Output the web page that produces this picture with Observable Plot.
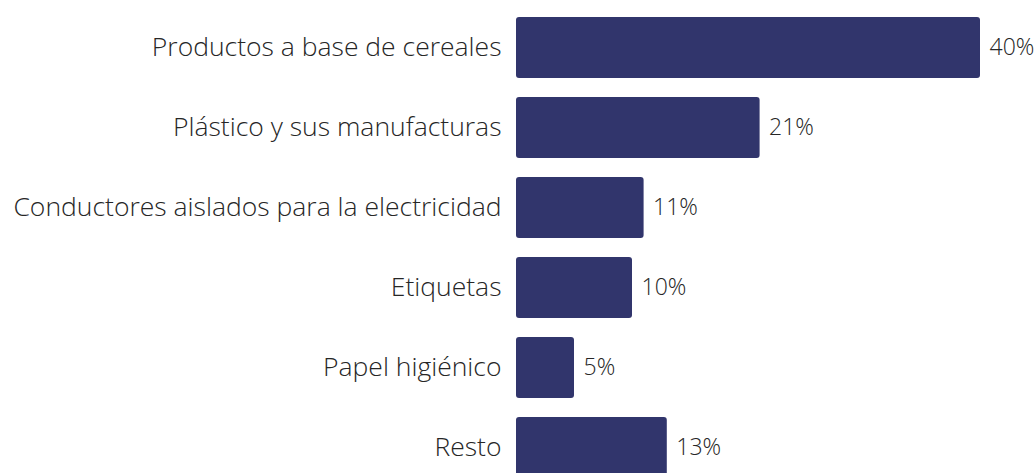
<!DOCTYPE html>
<html>
<head>
<meta charset="utf-8">
<script src="https://cdn.jsdelivr.net/npm/d3@7"></script>
<script src="https://cdn.jsdelivr.net/npm/@observablehq/plot@0.6"></script>
<style>
  html, body { margin: 0; padding: 0; background: #fff; overflow: hidden; }
  #chart svg { display: block; }
</style>
</head>
<body>
<div id="chart"></div>
<script>
const categories = [
  "Productos a base de cereales",
  "Plástico y sus manufacturas",
  "Conductores aislados para la electricidad",
  "Etiquetas",
  "Papel higiénico",
  "Resto"
];
const values = [40, 21, 11, 10, 5, 13];
const valueLabels = ["40%", "21%", "11%", "10%", "5%", "13%"];

const data = categories.map((c, i) => ({category: c, value: values[i], label: valueLabels[i]}));

const chart = Plot.plot({
  width: 1034,
  height: 473,
  marginTop: 0,
  marginBottom: 0,
  marginLeft: 516,
  marginRight: 54,
  style: {fontFamily: "'Open Sans', sans-serif", background: "#fff"},
  x: {domain: [0, 40], range: [516, 980], axis: null},
  y: {domain: categories, range: [0, 495.2], paddingInner: 0.241, paddingOuter: 0.2, label: null},
  marks: [
    Plot.barX(data, {x: "value", y: "category", fill: "#31356c", rx: 3}),
    Plot.text(data, {x: "value", y: "category", text: "label", textAnchor: "start", dx: 9,
      fill: "#262626", fontSize: 23, fontWeight: 300}),
    Plot.axisY({tickSize: 0, tickPadding: 15, fontSize: 26.5, fontWeight: 300, color: "#262626", label: null})
  ]
});
document.getElementById("chart").appendChild(chart);
</script>
</body>
</html>
